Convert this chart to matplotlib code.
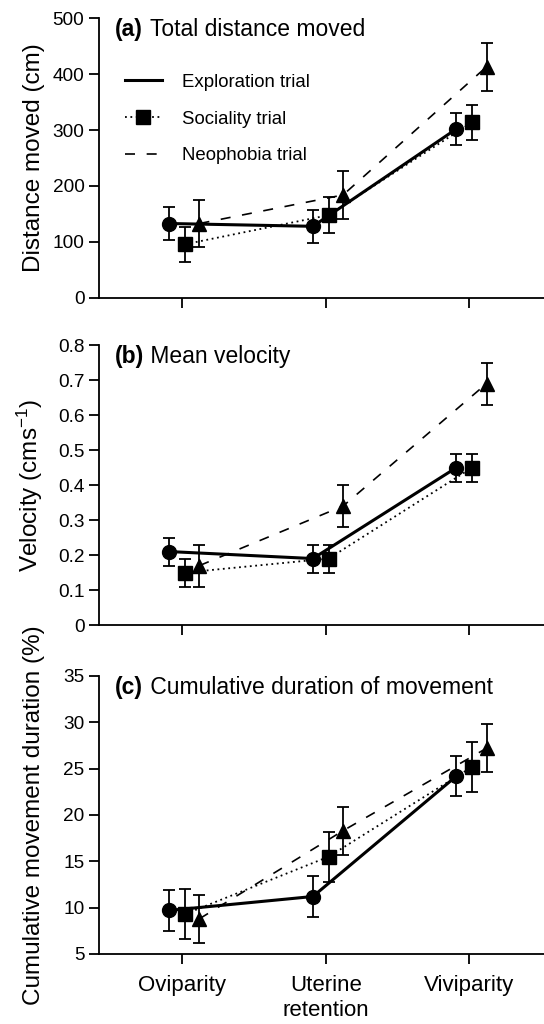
import matplotlib
matplotlib.use("Agg")
import matplotlib.pyplot as plt
from matplotlib.lines import Line2D
import numpy as np

plt.rcParams['font.family'] = ['Liberation Sans', 'DejaVu Sans']
plt.rcParams['mathtext.default'] = 'regular'

categories = ["Oviparity", "Uterine\nretention", "Viviparity"]
trials = ["Exploration trial", "Sociality trial", "Neophobia trial"]

# (a) total distance moved (cm)
dist_mean = {"Exploration trial": [133, 128, 302],
             "Sociality trial": [96, 148, 314],
             "Neophobia trial": [133, 184, 413]}
dist_err = {"Exploration trial": [30, 30, 29],
            "Sociality trial": [31, 32, 31],
            "Neophobia trial": [42, 43, 43]}

# (b) mean velocity (cm/s)
vel_mean = {"Exploration trial": [0.21, 0.19, 0.45],
            "Sociality trial": [0.15, 0.19, 0.45],
            "Neophobia trial": [0.17, 0.34, 0.69]}
vel_err = {"Exploration trial": [0.04, 0.04, 0.04],
           "Sociality trial": [0.04, 0.04, 0.04],
           "Neophobia trial": [0.06, 0.06, 0.06]}

# (c) cumulative duration of movement (%)
dur_mean = {"Exploration trial": [9.7, 11.2, 24.2],
            "Sociality trial": [9.3, 15.5, 25.2],
            "Neophobia trial": [8.8, 18.3, 27.2]}
dur_err = {"Exploration trial": [2.2, 2.2, 2.2],
           "Sociality trial": [2.7, 2.7, 2.7],
           "Neophobia trial": [2.6, 2.6, 2.6]}

styles = {
    "Exploration trial": dict(marker="o", ls="-", lw=2.2, offset=-0.09),
    "Sociality trial": dict(marker="s", ls=(0, (1, 2)), lw=1.3, offset=0.02),
    "Neophobia trial": dict(marker="^", ls=(0, (6, 7)), lw=1.2, offset=0.12),
}

def tick_fmt(v):
    return "0" if v == 0 else f"{v:g}"

panels = [
    ("(a)", " Total distance moved", "Distance moved (cm)", dist_mean, dist_err,
     (0, 500), np.arange(0, 501, 100), [0.182, 0.7090, 0.818, 0.2734]),
    ("(b)", " Mean velocity", "Velocity (cms$^{-1}$)", vel_mean, vel_err,
     (0, 0.8), np.round(np.arange(0, 0.81, 0.1), 1), [0.182, 0.3896, 0.818, 0.2734]),
    ("(c)", " Cumulative duration of movement", "Cumulative movement duration (%)",
     dur_mean, dur_err, (5, 35), np.arange(5, 36, 5), [0.182, 0.0684, 0.818, 0.2715]),
]

fig = plt.figure(figsize=(5.44, 10.24), dpi=100)
x = np.arange(len(categories))

for tag, title, ylab, means, errs, ylim, yticks, rect in panels:
    ax = fig.add_axes(rect)
    for t in trials:
        st = styles[t]
        xs = x + st["offset"]
        ax.plot(xs, means[t], color="black", ls=st["ls"], lw=st["lw"], zorder=2)
        ax.errorbar(xs, means[t], yerr=errs[t], fmt=st["marker"], color="black",
                    ms=10, elinewidth=1.3, capsize=4.5, capthick=1.3, zorder=3)
    ax.set_xlim(-0.58, 2.52)
    ax.set_ylim(*ylim)
    for s in ["top", "right"]:
        ax.spines[s].set_visible(False)
    for s in ["left", "bottom"]:
        ax.spines[s].set_linewidth(1.3)
    ax.tick_params(axis="both", direction="out", length=7, width=1.3, labelsize=13.7)
    ax.tick_params(axis="x", pad=8)
    ax.set_yticks(yticks)
    ax.set_yticklabels([tick_fmt(v) for v in yticks])
    ax.set_xticks(x)
    if tag == "(c)":
        ax.set_xticklabels(categories, fontsize=16, linespacing=1.25)
    else:
        ax.set_xticklabels([])
    ax.set_ylabel(ylab, fontsize=17.5)
    ax.yaxis.set_label_coords(-0.121, 0.5)
    ax.text(0.036, 1.0, tag, transform=ax.transAxes, fontsize=16.5,
            fontweight="bold", va="top", ha="left")
    ax.text(0.036 + 0.064, 1.0, title, transform=ax.transAxes, fontsize=16.5,
            va="top", ha="left")
    if tag == "(a)":
        handles = [
            Line2D([], [], color="black", ls="-", lw=2.2),
            Line2D([], [], color="black", ls=(0, (1, 2)), lw=1.3, marker="s", ms=10),
            Line2D([], [], color="black", ls=(0, (6, 7)), lw=1.2),
        ]
        ax.legend(handles, trials, loc="upper left", bbox_to_anchor=(0.02, 0.86),
                  frameon=False, fontsize=13.4, handlelength=2.0, handletextpad=1.1,
                  labelspacing=1.05)

fig.savefig("out.png", dpi=100)
